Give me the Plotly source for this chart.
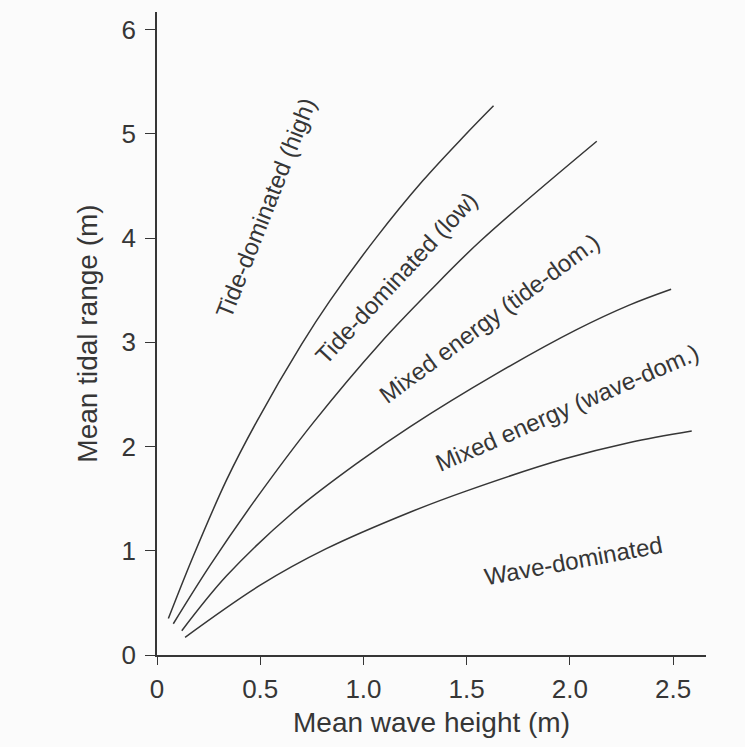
import plotly.graph_objects as go

# Boundary curves (mean wave height, mean tidal range)
c1_x = [0.055, 0.176, 0.337, 0.483, 0.70, 0.838, 1.06, 1.287, 1.49, 1.63]
c1_y = [0.35, 0.95, 1.68, 2.24, 2.98, 3.40, 4.00, 4.55, 4.985, 5.27]

c2_x = [0.079, 0.257, 0.48, 0.757, 1.08, 1.32, 1.565, 2.13]
c2_y = [0.30, 0.86, 1.50, 2.23, 2.99, 3.49, 3.97, 4.93]

c3_x = [0.12, 0.337, 0.66, 0.983, 1.225, 1.645, 2.03, 2.29, 2.49]
c3_y = [0.233, 0.76, 1.37, 1.86, 2.19, 2.70, 3.12, 3.36, 3.51]

c4_x = [0.136, 0.50, 0.82, 1.225, 1.5, 1.97, 2.29, 2.59]
c4_y = [0.17, 0.67, 1.02, 1.37, 1.575, 1.88, 2.04, 2.15]

# Region labels
region_labels = ["Tide-dominated (high)", "Tide-dominated (low)",
                 "Mixed energy (tide-dom.)", "Mixed energy (wave-dom.)",
                 "Wave-dominated"]
label_x = [0.528, 1.161, 1.608, 1.988, 2.019]
label_y = [4.29, 3.62, 3.23, 2.375, 0.91]
label_angle = [-68.5, -47, -36.5, -23.5, -10.5]

x_ticks = [0, 0.5, 1.0, 1.5, 2.0, 2.5]
x_ticktext = ["0", "0.5", "1.0", "1.5", "2.0", "2.5"]
y_ticks = [0, 1, 2, 3, 4, 5, 6]

INK = "#363636"
FONT = "Liberation Sans, Arial, sans-serif"

fig = go.Figure()
for xs, ys in [(c1_x, c1_y), (c2_x, c2_y), (c3_x, c3_y), (c4_x, c4_y)]:
    fig.add_trace(go.Scatter(x=xs, y=ys, mode="lines",
                             line=dict(color=INK, width=1.5, shape="spline", smoothing=1.0),
                             showlegend=False, hoverinfo="skip"))

for t, x, y, a in zip(region_labels, label_x, label_y, label_angle):
    fig.add_annotation(x=x, y=y, xref="x", yref="y", text=t, showarrow=False,
                       textangle=a, font=dict(family=FONT, size=24, color=INK))

fig.update_layout(
    width=745, height=747,
    margin=dict(l=157, r=39, t=12, b=92),
    paper_bgcolor="#fbfbfb", plot_bgcolor="#fbfbfb",
    font=dict(family=FONT, color=INK),
    showlegend=False,
)
fig.update_xaxes(
    range=[0, 2.659], tickvals=x_ticks, ticktext=x_ticktext,
    showgrid=False, zeroline=False, showline=True, linecolor=INK, linewidth=1.6,
    ticks="outside", ticklen=8, tickwidth=1.4, tickcolor=INK,
    tickfont=dict(family=FONT, size=26, color=INK), ticklabelstandoff=2,
    title=dict(text="Mean wave height (m)", font=dict(family=FONT, size=28, color=INK), standoff=9),
    automargin=False,
)
fig.update_yaxes(
    range=[0, 6.17], tickvals=y_ticks,
    showgrid=False, zeroline=False, showline=True, linecolor=INK, linewidth=1.6,
    ticks="outside", ticklen=10, tickwidth=1.4, tickcolor=INK,
    tickfont=dict(family=FONT, size=26, color=INK), ticklabelstandoff=4,
    title=dict(text="Mean tidal range (m)", font=dict(family=FONT, size=28, color=INK), standoff=16),
    automargin=False,
)

fig.write_html("out.html")
